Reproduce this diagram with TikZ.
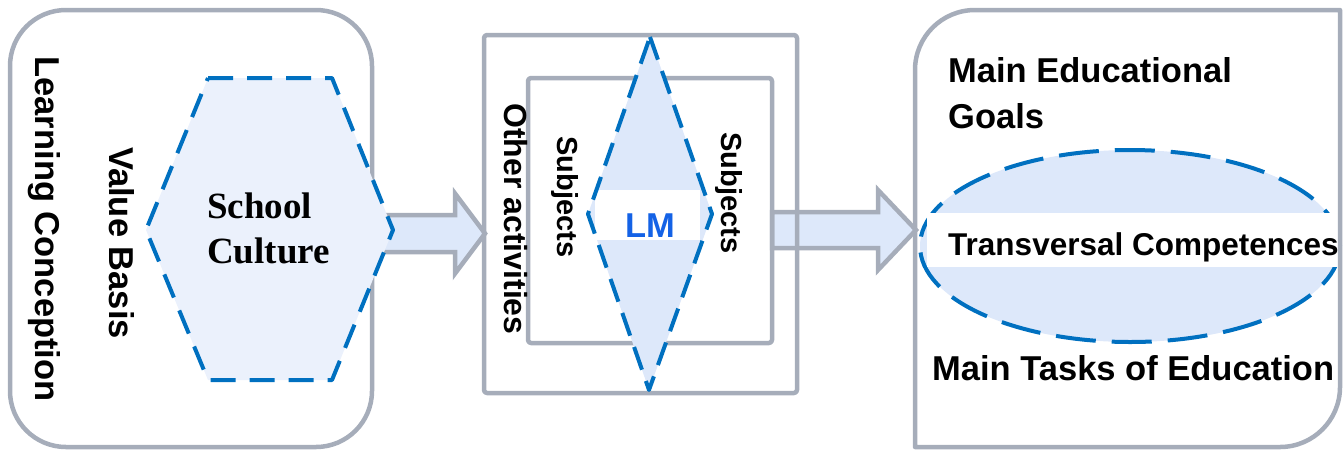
\documentclass[tikz,border=0pt]{standalone}
\usepackage{fontspec}
\setmainfont{Liberation Sans}
\newfontfamily\timesfam{Liberation Serif}
\usetikzlibrary{calc}

\definecolor{framegray}{HTML}{A6ADBA}
\definecolor{dashblue}{HTML}{0070C0}
\definecolor{hexfill}{HTML}{EBF1FC}
\definecolor{softblue}{HTML}{DDE8FA}
\definecolor{lmblue}{HTML}{1462E6}

\begin{document}
\begin{tikzpicture}[x=1pt,y=-1pt,
  frame/.style={draw=framegray, line width=4.5pt, line join=round},
  blockarrow/.style={draw=framegray, fill=softblue, line width=4.5pt, line join=miter},
  dashshape/.style={draw=dashblue, line width=4pt, line join=round},
  sans/.style={font=\fontsize{34.5}{46}\selectfont\bfseries, inner sep=0pt},
  sanssmall/.style={font=\fontsize{29}{34}\selectfont\bfseries, inner sep=0pt},
  sansmid/.style={font=\fontsize{32}{38}\selectfont\bfseries, inner sep=0pt},
  serifbold/.style={font=\timesfam\fontsize{37}{45}\selectfont\bfseries, inner sep=0pt}
]
\useasboundingbox (0,0) rectangle (1343,451);

% ---- block arrows (drawn first, so shapes sit on top) ----
\coordinate (cultureOut) at (375,233.5);
\coordinate (activitiesIn) at (485,233.5);
\draw[blockarrow] let \p1=(cultureOut), \p2=(activitiesIn) in
  (\x1,\y1+18.5pt) -- (\x2-30pt,\y1+18.5pt) -- (\x2-30pt,\y1+40pt) -- (\p2)
  -- (\x2-30pt,\y1-40pt) -- (\x2-30pt,\y1-18.5pt) -- (\x1,\y1-18.5pt) -- cycle;

\coordinate (subjectsOut) at (772,230);
\coordinate (goalsIn) at (916,230);
\draw[blockarrow] let \p1=(subjectsOut), \p2=(goalsIn) in
  (\x1,\y1+18pt) -- (\x2-38pt,\y1+18pt) -- (\x2-38pt,\y1+40pt) -- (\p2)
  -- (\x2-38pt,\y1-40pt) -- (\x2-38pt,\y1-18pt) -- (\x1,\y1-18pt) -- cycle;

% ---- left panel ----
\draw[frame, rounded corners=56pt] (10,10) rectangle (372,447);
\draw[dashshape, fill=hexfill, dash pattern=on 25pt off 14pt]
  (208,78) -- (332,78) -- (393,230) -- (332,380) -- (208,380) -- (146,230) -- cycle;

% ---- middle panel ----
\draw[frame, rounded corners=3pt] (484,35) rectangle (797,393);
\draw[frame, rounded corners=3pt] (528,78) rectangle (772,343);
\fill[softblue] (650,37) -- (712,214) -- (649,390) -- (588,214) -- cycle;
\fill[white] (595,190) rectangle (700,240);
\draw[dashshape, dash pattern=on 24pt off 12pt]
  (650,37) -- (712,214) -- (649,390) -- (588,214) -- cycle;

% ---- right panel ----
\draw[dashshape, fill=softblue, dash pattern=on 40pt off 16pt]
  (1130,246) ellipse [x radius=210pt, y radius=96pt];
\fill[white] (927,213) rectangle (1338,267);
\draw[frame] (915,447) -- (915,70) arc[start angle=180, end angle=90, radius=60pt]
  -- (1340,10) -- (1340,387) arc[start angle=0, end angle=-90, radius=60pt] -- cycle;

% ---- labels ----
\node[sans, rotate=-90, anchor=base] (learning) at (35,229) {Learning Conception};
\node[sans, rotate=-90, anchor=base] (value) at (109,243) {Value Basis};
\node[serifbold, anchor=base west, align=left] (culture) at (207,263) {School\\Culture};
\node[sansmid, rotate=-90, anchor=base] (other) at (504,219) {Other activities};
\node[sanssmall, rotate=-90, anchor=base] (subjL) at (557,197) {Subjects};
\node[sanssmall, rotate=-90, anchor=base] (subjR) at (721,193) {Subjects};
\node[sans, text=lmblue, anchor=base] (lm) at (650,237) {LM};
\node[sans, anchor=base west, align=left] (goals) at (948,128) {Main Educational\\Goals};
\node[sans, font=\fontsize{31.5}{38}\selectfont\bfseries, anchor=base west] (transversal) at (948,255) {Transversal Competences};
\node[sans, anchor=base west] (tasks) at (932,380) {Main Tasks of Education};
\end{tikzpicture}
\end{document}
